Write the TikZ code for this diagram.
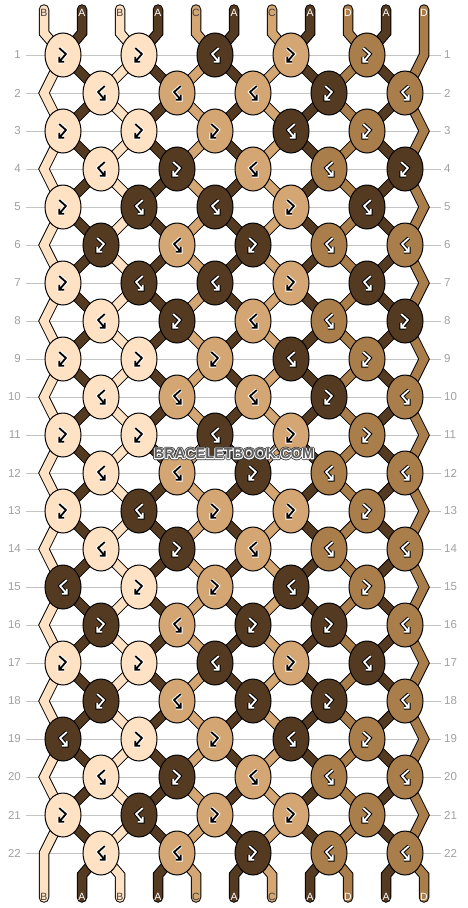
\documentclass[tikz,border=0pt]{standalone}
\usepackage{fontspec}
\setmainfont{Liberation Sans}
\usetikzlibrary{shapes.geometric}
\definecolor{cB}{HTML}{FFE1C4}
\definecolor{cA}{HTML}{553A22}
\definecolor{cC}{HTML}{D3A674}
\definecolor{cD}{HTML}{AA7E4B}
\definecolor{gridc}{HTML}{C4C4C4}
\definecolor{numc}{HTML}{A0A0A0}
\definecolor{wmc}{HTML}{5E5E5E}
\tikzset{
  gridline/.style={draw=gridc, line width=1pt},
  numlbl/.style={text=numc, font=\fontsize{11.5}{11.5}\selectfont, inner sep=0pt},
  strout/.style={draw=black, line width=10.5pt, line cap=round, line join=miter},
  strin/.style={line width=8.5pt, line cap=round, line join=miter},
  strlbl/.style={font=\fontsize{10.5}{10.5}\selectfont, inner sep=0pt},
  knot/.style={ellipse, draw=black, line width=1pt, minimum width=36pt, minimum height=44pt, inner sep=0pt},
  glyphout/.style={line width=3.8pt, line join=miter, line cap=butt},
  glyphin/.style={line width=1.8pt, line join=miter, line cap=butt},
}
\newcommand\wmtext{BRACELETBOOK.COM}
\begin{document}
\begin{tikzpicture}[x=1pt,y=-1pt]
\useasboundingbox (0,0) rectangle (468,908);
% guide lines and row numbers
\foreach \r in {1,...,22}{
  \pgfmathsetmacro\yy{55+38*(\r-1)}
  \coordinate (gl-\r) at (26,\yy);
  \coordinate (gr-\r) at (441,\yy);
  \draw[gridline] (gl-\r) -- (gr-\r);
  \node[numlbl, anchor=east] (nl-\r) at (21,\yy) {\r};
  \node[numlbl, anchor=west] (nr-\r) at (444,\yy) {\r};
}
% strings
\foreach \i/\c/\tc in {1/B/black!75,2/A/white,3/B/black!75,4/A/white,5/C/black!75,6/A/white,7/C/black!75,8/A/white,9/D/white,10/A/white,11/D/white}{
  \pgfmathsetmacro\xs{44+38*(\i-1)}
  \coordinate (s\i-t) at (\xs,9.5);
  \coordinate (s\i-u) at (\xs,33);
  \foreach \r in {1,...,22}{
    \pgfmathsetmacro\off{38*(1-mod(\i+\r,2))-19}
    \ifnum\i=11 \ifodd\r\relax \def\off{0}\fi\fi
    \ifnum\i=1 \ifodd\r\relax\else\def\off{0}\fi\fi
    \coordinate (s\i-\r) at ({\xs+\off},{55+38*(\r-1)});
  }
  \coordinate (s\i-v) at (\xs,875);
  \coordinate (s\i-w) at (\xs,897.5);
  \draw[strout] (s\i-t) -- (s\i-u) \foreach \r in {1,...,22}{-- (s\i-\r)} -- (s\i-v) -- (s\i-w);
  \draw[strin, draw=c\c] (s\i-t) -- (s\i-u) \foreach \r in {1,...,22}{-- (s\i-\r)} -- (s\i-v) -- (s\i-w);
  \node[strlbl, text=\tc] (lt-\i) at (\xs,12.5) {\c};
  \node[strlbl, text=\tc] (lb-\i) at (\xs,896.5) {\c};
}
% knots
\def\tmpA{A}
\def\tmpD{D}
\foreach \r/\cols in {1/{B,B,A,C,D},2/{B,C,C,A,D},3/{B,B,C,A,D},4/{B,A,C,D,A},5/{B,A,A,C,A},6/{A,C,A,D,D},7/{B,A,A,C,A},8/{B,A,C,D,A},9/{B,B,C,A,D},10/{B,C,C,A,D},11/{B,B,A,C,D},12/{B,C,A,D,D},13/{B,A,C,C,D},14/{B,A,C,D,D},15/{A,B,C,A,D},16/{A,C,A,A,D},17/{B,B,A,C,A},18/{A,C,A,A,D},19/{A,B,C,A,D},20/{B,A,C,D,D},21/{B,A,C,C,D},22/{B,C,A,D,D}}{
  \foreach \col [count=\k] in \cols {
    \edef\cc{\col}
    \ifodd\r\relax \pgfmathsetmacro\kx{63+76*(\k-1)}\else \pgfmathsetmacro\kx{101+76*(\k-1)}\fi
    \node[knot, fill=c\cc] (k-\r-\k) at (\kx,{55+38*(\r-1)}) {};
    \def\m{1}
    \ifodd\r\relax \ifx\cc\tmpA \def\m{-1}\fi \else \ifx\cc\tmpA\else \def\m{-1}\fi \fi
    \def\gm{black}\def\go{white}
    \ifx\cc\tmpA \def\gm{white}\def\go{black}\fi
    \ifx\cc\tmpD \def\gm{white}\def\go{black}\fi
    \begin{scope}[shift={(k-\r-\k.center)}, xscale=\m]
      \draw[glyphout, draw=\go] (-3.7,-6.9) -- (2.9,-1) -- (-3.4,6.4) (-3.7,1.9) -- (-3.7,6.7) -- (1.2,6.7);
      \draw[glyphin, draw=\gm] (-3.7,-6.9) -- (2.9,-1) -- (-3.4,6.4) (-3.7,1.9) -- (-3.7,6.7) -- (1.2,6.7);
    \end{scope}
  }
}
% watermark: gray letters, white inner edge, dark outer edge
\node[text=wmc, font=\bfseries\fontsize{14.5}{14.5}\selectfont, inner sep=0pt] (wm) at (234,453.5)
  {\rlap{\special{pdf:literal direct 1 Tr 1 j 3.4 w 0.2 0.2 0.2 RG}\wmtext}\rlap{\special{pdf:literal direct 1 Tr 1 j 1.8 w 1 1 1 RG}\wmtext}\special{pdf:literal direct 0 Tr 0 j 0 0 0 RG}\wmtext};
\end{tikzpicture}
\end{document}
